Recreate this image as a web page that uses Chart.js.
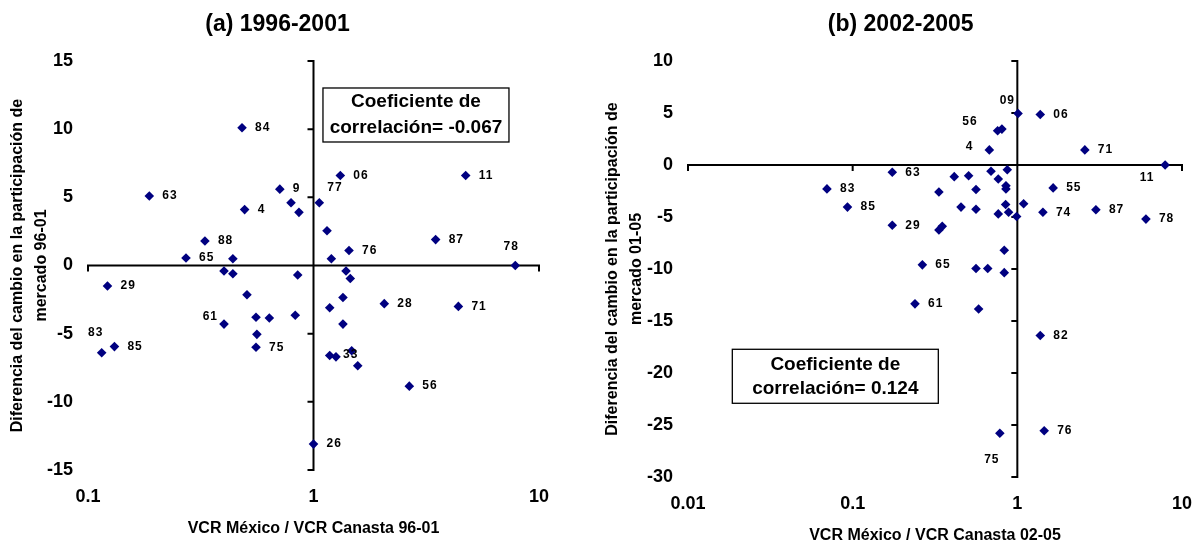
<!DOCTYPE html>
<html><head><meta charset="utf-8">
<script src="https://cdn.jsdelivr.net/npm/chart.js@4.4.0/dist/chart.umd.min.js"></script>
<style>
html,body{margin:0;padding:0;background:#fff;width:1194px;height:543px;overflow:hidden;}
canvas{position:absolute;top:0;}
#c1{left:0;} #c2{left:597px;}
</style></head><body>
<canvas id="c1" width="597" height="543"></canvas>
<canvas id="c2" width="597" height="543"></canvas>
<script>
// ---------- Panel (a) 1996-2001 ----------
const leftTitle = '(a) 1996-2001';
const leftX = [0.187,0.482,0.495,0.330,0.272,0.439,0.709,0.795,0.862,1.061,1.315,4.73,1.148,3.48,1.437,1.2,7.85,0.401,0.439,0.851,0.122,0.507,0.401,0.556,0.637,0.830,0.561,0.556,0.115,0.131,1.394,1.456,1.351,1.18,2.06,4.39,1.351,1.18,1.258,1.477,1.571,2.66,1.0];
const leftY = [5.1,10.1,4.1,1.8,0.55,0.5,5.6,4.6,3.9,4.6,6.6,6.6,2.55,1.9,1.1,0.5,0,-0.4,-0.6,-0.7,-1.5,-2.15,-4.3,-3.8,-3.85,-3.65,-5.05,-6.0,-6.4,-5.95,-0.4,-0.95,-2.35,-3.1,-2.8,-3.0,-4.3,-6.6,-6.7,-6.25,-7.35,-8.85,-13.1];
const leftLabels = ['63','84','4','88','65','','9','','','77','06','11','','87','76','','78','','','','29','','61','','','','','75','83','85','','','','','28','71','','','33','','','56','26'];
const leftXTicks = [0.1,1,10];
const leftYTicks = [-15,-10,-5,0,5,10,15];
const leftXTitle = 'VCR México / VCR Canasta 96-01';
const leftYTitle = ['Diferencia del cambio en la participación de','mercado 96-01'];
const leftBox = ['Coeficiente de','correlación= -0.067'];

// ---------- Panel (b) 2002-2005 ----------
const rightTitle = '(b) 2002-2005';
const rightX = [0.0698,0.093,0.174,0.174,1.01,1.378,0.759,0.806,0.676,2.57,7.9,0.414,0.506,0.692,0.869,0.766,0.853,0.853,0.334,0.561,1.65,0.455,0.561,0.849,1.092,0.766,0.885,0.99,1.43,3.0,6.04,0.334,0.350,0.833,0.265,0.561,0.661,0.833,0.239,0.582,1.378,0.783,1.456];
const rightY = [-2.3,-4.05,-0.7,-5.8,4.95,4.85,3.3,3.45,1.45,1.45,0,-1.12,-1.03,-0.6,-0.45,-1.35,-2.0,-2.3,-2.6,-2.35,-2.2,-4.05,-4.25,-3.8,-3.72,-4.7,-4.55,-4.95,-4.55,-4.3,-5.2,-6.25,-5.9,-8.2,-9.6,-9.95,-9.95,-10.35,-13.35,-13.85,-16.4,-25.8,-25.55];
const rightLabels = ['83','85','63','29','09','06','56','','4','71','11','','','','','','','','','','55','','','','','','','','74','87','78','','','','65','','','','61','','82','75','76'];
const rightXTicks = [0.01,0.1,1,10];
const rightYTicks = [-30,-25,-20,-15,-10,-5,0,5,10];
const rightXTitle = 'VCR México / VCR Canasta 02-05';
const rightYTitle = ['Diferencia del cambio en la participación de','mercado 01-05'];
const rightBox = ['Coeficiente de','correlación= 0.124'];

const FONT = "'Liberation Sans', Arial, Helvetica, sans-serif";
const MARK = '#000080';

const crossAxesPlugin = {
  id: 'crossAxes',
  beforeDatasetsDraw(chart, args, opts) {
    const {ctx, chartArea: a, scales: {x, y}} = chart;
    const cx = x.getPixelForValue(opts.crossX);
    const cy = y.getPixelForValue(opts.crossY);
    ctx.save();
    ctx.strokeStyle = '#000'; ctx.lineWidth = 2;
    ctx.beginPath();
    ctx.moveTo(cx, a.top - 1); ctx.lineTo(cx, a.bottom + 1);
    ctx.moveTo(a.left - 1, cy); ctx.lineTo(a.right + 1, cy);
    y.ticks.forEach(t => { const py = y.getPixelForValue(t.value); ctx.moveTo(cx - opts.tick, py); ctx.lineTo(cx, py); });
    x.ticks.forEach(t => { const px = x.getPixelForValue(t.value); ctx.moveTo(px, cy); ctx.lineTo(px, cy + opts.tick); });
    ctx.stroke();
    ctx.restore();
  }
};

const pointLabelPlugin = {
  id: 'pointLabels',
  afterDatasetsDraw(chart, args, opts) {
    const {ctx} = chart;
    const meta = chart.getDatasetMeta(0);
    const labels = chart.data.datasets[0].pointLabels;
    ctx.save();
    ctx.font = 'bold 12px ' + FONT;
    ctx.fillStyle = '#000';
    ctx.textBaseline = 'middle';
    try { ctx.letterSpacing = '1px'; } catch (e) {}
    meta.data.forEach((el, i) => {
      const lab = labels[i];
      if (!lab) return;
      const p = opts.overrides[lab] || opts.defaultPlace;
      ctx.textAlign = p.align;
      ctx.fillText(lab, el.x + p.dx, el.y + p.dy);
    });
    ctx.restore();
  }
};

const boxPlugin = {
  id: 'corrBox',
  afterDatasetsDraw(chart, args, opts) {
    const {ctx, chartArea: a} = chart;
    const bx = a.left + opts.fx * (a.right - a.left);
    const by = a.top + opts.fy * (a.bottom - a.top);
    ctx.save();
    ctx.fillStyle = '#fff';
    ctx.fillRect(bx, by, opts.w, opts.h);
    ctx.strokeStyle = '#000'; ctx.lineWidth = 1.3;
    ctx.strokeRect(bx, by, opts.w, opts.h);
    ctx.fillStyle = '#000';
    ctx.font = 'bold 19px ' + FONT;
    ctx.textAlign = 'center'; ctx.textBaseline = 'middle';
    opts.lines.forEach((t, i) => ctx.fillText(t, bx + opts.w / 2, by + opts.lineY[i]));
    ctx.restore();
  }
};

function makeChart(id, p) {
  const pts = p.xs.map((v, i) => ({x: v, y: p.ys[i]}));
  return new Chart(document.getElementById(id), {
    type: 'scatter',
    data: { datasets: [{ data: pts, pointLabels: p.labels, pointStyle: 'rectRot', pointRadius: 4.8, pointHoverRadius: 4.8,
      backgroundColor: MARK, borderColor: MARK, borderWidth: 0 }] },
    options: {
      responsive: false, animation: false, devicePixelRatio: 1,
      layout: { padding: { left: p.padL, right: p.padR, top: 0, bottom: 0 } },
      plugins: {
        legend: { display: false }, tooltip: { enabled: false },
        title: { display: true, text: p.title, color: '#000', font: { family: FONT, size: 23, weight: 'bold' }, padding: { top: 11.2, bottom: 22.2 } },
        crossAxes: { crossX: 1, crossY: 0, tick: 6 },
        pointLabels: { defaultPlace: { dx: 13, dy: 0, align: 'left' }, overrides: p.overrides },
        corrBox: p.box
      },
      scales: {
        x: {
          type: 'logarithmic', min: p.xTicks[0], max: p.xTicks[p.xTicks.length - 1],
          afterBuildTicks: s => { s.ticks = p.xTicks.map(v => ({value: v})); },
          afterFit: s => { s.height = p.xH; s.paddingRight = 0; s.paddingLeft = 0; },
          ticks: { callback: v => String(v), color: '#000', font: { family: FONT, size: 18, weight: 'bold' }, padding: 16.2, maxRotation: 0, autoSkip: false },
          grid: { display: false, drawTicks: false }, border: { display: false },
          title: { display: true, text: p.xTitle, color: '#000', font: { family: FONT, size: 16, weight: 'bold' }, padding: { top: 0, bottom: p.xTitlePad } }
        },
        y: {
          type: 'linear', min: p.yTicks[0], max: p.yTicks[p.yTicks.length - 1],
          afterBuildTicks: s => { s.ticks = p.yTicks.map(v => ({value: v})); },
          afterFit: s => { s.width = p.yW; },
          ticks: { color: '#000', font: { family: FONT, size: 18, weight: 'bold' }, padding: 15 },
          grid: { display: false, drawTicks: false }, border: { display: false },
          title: { display: true, text: p.yTitle, color: '#000', font: { family: FONT, size: 16, weight: 'bold', lineHeight: 1.5 }, padding: { top: p.yTitlePad, bottom: 0 } }
        }
      }
    },
    plugins: [crossAxesPlugin, pointLabelPlugin, boxPlugin]
  });
}

makeChart('c1', {
  title: leftTitle, xs: leftX, ys: leftY, labels: leftLabels, xTicks: leftXTicks, yTicks: leftYTicks,
  xTitle: leftXTitle, yTitle: leftYTitle,
  padL: 16, padR: 58, yW: 72, xH: 73, xTitlePad: 4.4, yTitlePad: -10,
  overrides: {
    '77': {dx: 8, dy: -15, align: 'left'},
    '78': {dx: -4, dy: -19, align: 'center'},
    '61': {dx: -6, dy: -7, align: 'right'},
    '83': {dx: -6, dy: -20, align: 'center'},
    '33': {dx: 7, dy: -2, align: 'left'}
  },
  box: { fx: 0.521, fy: 0.066, w: 186, h: 54, lines: leftBox, lineY: [14, 40] }
});

makeChart('c2', {
  title: rightTitle, xs: rightX, ys: rightY, labels: rightLabels, xTicks: rightXTicks, yTicks: rightYTicks,
  xTitle: rightXTitle, yTitle: rightYTitle,
  padL: 22.4, padR: 12, yW: 68.6, xH: 66, xTitlePad: -2.6, yTitlePad: -18.4,
  overrides: {
    '09': {dx: -3, dy: -13, align: 'right'},
    '56': {dx: -20, dy: -9, align: 'right'},
    '4': {dx: -16, dy: -3, align: 'right'},
    '11': {dx: -18, dy: 13, align: 'center'},
    '75': {dx: -8, dy: 26, align: 'center'}
  },
  box: { fx: 0.0897, fy: 0.693, w: 206, h: 54, lines: rightBox, lineY: [15, 39] }
});
</script>
</body></html>
